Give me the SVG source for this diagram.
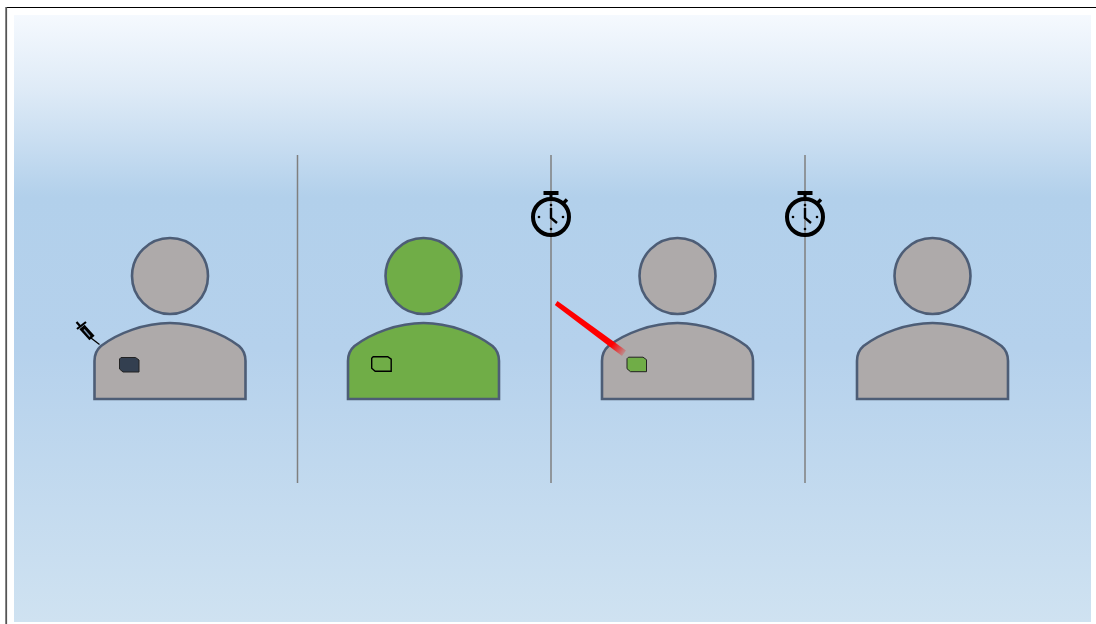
<svg xmlns="http://www.w3.org/2000/svg" width="1096" height="624" viewBox="0 0 1096 624">
<style>
.body{stroke:#4d5d76;stroke-width:2.6;fill:#aeaaaa}
.g{fill:#70ad47}
.div{stroke:#7f7f7f;stroke-width:1.5;fill:none}
.clock{fill:none;stroke:#000}
</style>
<defs>
<linearGradient id="bg" x1="0" y1="0" x2="0" y2="1">
<stop offset="0" stop-color="#f5f9fe"/>
<stop offset="0.12" stop-color="#dfebf7"/>
<stop offset="0.3" stop-color="#b2d0eb"/>
<stop offset="0.55" stop-color="#b5d1ec"/>
<stop offset="1" stop-color="#cfe2f1"/>
</linearGradient>
<linearGradient id="fade" gradientUnits="userSpaceOnUse" x1="556" y1="303" x2="625" y2="353">
<stop offset="0.82" stop-color="#ff0000"/>
<stop offset="1" stop-color="#ff0000" stop-opacity="0.15"/>
</linearGradient>
<path id="bodyshape" d="M-75.500 61V23C-75.500 15 -72.500 11 -69 8C-52 -5 -25 -15 0 -15C25 -15 52 -5 69 8C72.500 11 75.500 15 75.500 23V61Z"/>
<path id="chip" d="M1.500 0H16L19.500 2.500V14.500H3.500L0 11.500V1.500Z"/>
<g id="clk">
<circle cx="0" cy="0" r="18" class="clock" stroke-width="4"/>
<path d="M-7.500 -24H7.500" class="clock" stroke-width="4"/>
<path d="M0 -24V-18" class="clock" stroke-width="3"/>
<path d="M12.500 -14L16 -17.500" class="clock" stroke-width="3.400"/>
<path d="M0 -9V1L6 6" class="clock" stroke-width="2.400"/>
<circle cx="0" cy="-12" r="1.300"/><circle cx="0" cy="12" r="1.300"/><circle cx="-12" cy="0" r="1.300"/><circle cx="12" cy="0" r="1.300"/>
</g>
</defs>
<rect id="background" x="14" y="15" width="1077" height="607" fill="url(#bg)"/>
<path id="frame-top" d="M6 7.500H1096" stroke="#000" stroke-width="1.200" fill="none"/>
<path id="frame-left" d="M6.200 7V624" stroke="#555" stroke-width="1.800" fill="none"/>
<g id="connectors">
<path class="div" d="M297.500 155V483"/>
<path class="div" d="M551 155V483"/>
<path class="div" d="M805 155V483"/>
</g>
<g id="person1">
<circle cx="170" cy="276" r="38" class="body"/>
<use href="#bodyshape" x="170" y="338" class="body"/>
<use href="#chip" x="119.500" y="357.500" fill="#333f50" stroke="#222" stroke-width="1"/>
</g>
<g id="syringe">
<path d="M82 327L92 338" stroke="#000" stroke-width="7" fill="none"/>
<path d="M84 329.500L90 336.500" stroke="#7e97b4" stroke-width="1.400" fill="none"/>
<path d="M91 338L99.500 344.500" stroke="#000" stroke-width="1.300" fill="none"/>
<path d="M77 329L86 322M80 326L76.500 322" stroke="#000" stroke-width="2.200" fill="none"/>
</g>
<g id="person2">
<circle cx="423.500" cy="276" r="38" class="body g"/>
<use href="#bodyshape" x="423.500" y="338" class="body g"/>
<use href="#chip" x="371.700" y="356.700" fill="none" stroke="#000" stroke-width="1.400"/>
</g>
<g id="person3">
<circle cx="677.500" cy="276" r="38" class="body"/>
<use href="#bodyshape" x="677.500" y="338" class="body"/>
<use href="#chip" x="627" y="357.200" fill="#70ad47" stroke="#222" stroke-width="1"/>
</g>
<g id="person4">
<circle cx="932.500" cy="276" r="38" class="body"/>
<use href="#bodyshape" x="932.500" y="338" class="body"/>
</g>
<g id="timer1"><use href="#clk" x="551" y="217"/></g>
<g id="timer2"><use href="#clk" x="805" y="217"/></g>
<g id="pointer"><path d="M554.800 304.900L557.500 301L626 350.500L622 356Z" fill="url(#fade)"/></g>
</svg>
